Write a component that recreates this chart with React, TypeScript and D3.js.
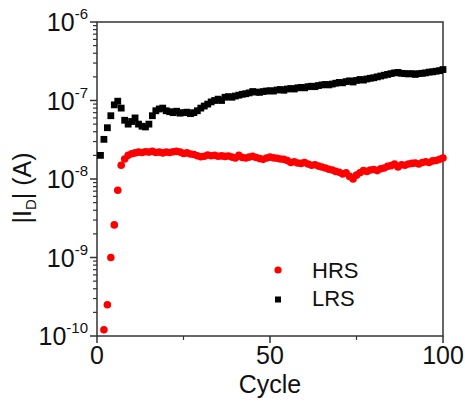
import React, { useEffect, useRef } from "react";
import * as d3 from "d3";

const cycles = d3.range(1, 101);

// LRS current, cycle 1..100
const lrsValues = [
  2.0e-8, 3.2e-8, 4.5e-8, 6.4e-8, 8.8e-8, 9.8e-8, 8.0e-8, 5.6e-8, 5.0e-8, 5.4e-8,
  6.0e-8, 5.0e-8, 4.7e-8, 4.6e-8, 5.0e-8, 6.4e-8, 7.4e-8, 7.8e-8, 8.0e-8, 7.4e-8,
  7.2e-8, 7.0e-8, 7.3e-8, 6.9e-8, 7.0e-8, 7.1e-8, 6.8e-8, 7.0e-8, 7.4e-8, 8.0e-8,
  8.5e-8, 9.0e-8, 9.6e-8, 1.0e-7, 1.04e-7, 1.0e-7, 1.1e-7, 1.12e-7, 1.1e-7, 1.14e-7,
  1.17e-7, 1.2e-7, 1.22e-7, 1.25e-7, 1.3e-7, 1.28e-7, 1.27e-7, 1.3e-7, 1.32e-7, 1.33e-7,
  1.32e-7, 1.36e-7, 1.38e-7, 1.35e-7, 1.4e-7, 1.42e-7, 1.4e-7, 1.45e-7, 1.47e-7, 1.45e-7,
  1.5e-7, 1.52e-7, 1.5e-7, 1.55e-7, 1.58e-7, 1.6e-7, 1.58e-7, 1.62e-7, 1.66e-7, 1.7e-7,
  1.68e-7, 1.74e-7, 1.78e-7, 1.72e-7, 1.8e-7, 1.85e-7, 1.82e-7, 1.88e-7, 1.92e-7, 1.95e-7,
  2.0e-7, 2.05e-7, 2.1e-7, 2.15e-7, 2.2e-7, 2.25e-7, 2.28e-7, 2.22e-7, 2.2e-7, 2.18e-7,
  2.2e-7, 2.15e-7, 2.2e-7, 2.22e-7, 2.25e-7, 2.3e-7, 2.32e-7, 2.36e-7, 2.4e-7, 2.48e-7,
];

// HRS current, cycle 1..100 (cycle 1 is below the axis range)
const hrsValues = [
  null, 1.2e-10, 2.5e-10, 1.0e-9, 2.6e-9, 7.2e-9, 1.5e-8, 1.8e-8, 2.0e-8, 2.1e-8,
  2.15e-8, 2.2e-8, 2.18e-8, 2.22e-8, 2.2e-8, 2.25e-8, 2.18e-8, 2.2e-8, 2.15e-8, 2.2e-8,
  2.18e-8, 2.22e-8, 2.25e-8, 2.2e-8, 2.12e-8, 2.15e-8, 2.08e-8, 2.05e-8, 1.98e-8, 1.92e-8,
  1.95e-8, 2.02e-8, 1.98e-8, 2.0e-8, 1.95e-8, 1.97e-8, 1.94e-8, 1.96e-8, 1.9e-8, 1.85e-8,
  2.0e-8, 1.88e-8, 1.85e-8, 1.9e-8, 1.94e-8, 1.88e-8, 1.82e-8, 1.78e-8, 1.85e-8, 1.9e-8,
  1.86e-8, 1.84e-8, 1.8e-8, 1.78e-8, 1.72e-8, 1.62e-8, 1.66e-8, 1.6e-8, 1.58e-8, 1.62e-8,
  1.55e-8, 1.5e-8, 1.52e-8, 1.46e-8, 1.42e-8, 1.38e-8, 1.33e-8, 1.3e-8, 1.25e-8, 1.22e-8,
  1.16e-8, 1.2e-8, 1.08e-8, 1.0e-8, 1.12e-8, 1.2e-8, 1.28e-8, 1.25e-8, 1.3e-8, 1.32e-8,
  1.28e-8, 1.35e-8, 1.38e-8, 1.45e-8, 1.48e-8, 1.55e-8, 1.42e-8, 1.52e-8, 1.5e-8, 1.55e-8,
  1.58e-8, 1.6e-8, 1.55e-8, 1.62e-8, 1.66e-8, 1.62e-8, 1.7e-8, 1.72e-8, 1.78e-8, 1.85e-8,
];

const xTicks = [0, 50, 100];
const xMinorTicks = [25, 75];
const yExponents = [-6, -7, -8, -9, -10];

const App = () => {
  const svgRef = useRef<SVGSVGElement>(null);
  const svgWidth = 465;
  const svgHeight = 405;
  const margin = { top: 22, right: 22, bottom: 69, left: 97 };
  const innerWidth = svgWidth - margin.left - margin.right;
  const innerHeight = svgHeight - margin.top - margin.bottom;
  const font = "Liberation Sans, Arial, sans-serif";
  const axisColor = "#333";

  useEffect(() => {
    const svg = d3.select(svgRef.current);
    svg.selectAll("*").remove();

    const xScale = d3.scaleLinear().domain([0, 100]).range([0, innerWidth]);
    const yScale = d3.scaleLog().domain([1e-10, 1e-6]).range([innerHeight, 0]);

    const g = svg
      .append("g")
      .attr("transform", `translate(${margin.left},${margin.top})`);

    // frame
    g.append("rect")
      .attr("width", innerWidth)
      .attr("height", innerHeight)
      .attr("fill", "none")
      .attr("stroke", axisColor)
      .attr("stroke-width", 1.5);

    // y ticks (major + minor, outward)
    const minor: number[] = [];
    for (let e = -10; e < -6; e++) {
      for (let m = 2; m <= 9; m++) minor.push(m * Math.pow(10, e));
    }
    g.selectAll(".ymin")
      .data(minor)
      .enter()
      .append("line")
      .attr("x1", 0)
      .attr("x2", -4)
      .attr("y1", (d) => yScale(d))
      .attr("y2", (d) => yScale(d))
      .attr("stroke", axisColor)
      .attr("stroke-width", 1.2);

    g.selectAll(".ymaj")
      .data(yExponents)
      .enter()
      .append("line")
      .attr("x1", 0)
      .attr("x2", -7)
      .attr("y1", (d) => yScale(Math.pow(10, d)))
      .attr("y2", (d) => yScale(Math.pow(10, d)))
      .attr("stroke", axisColor)
      .attr("stroke-width", 1.5);

    const yLabels = g
      .selectAll(".ylab")
      .data(yExponents)
      .enter()
      .append("text")
      .attr("x", -9)
      .attr("y", (d) => yScale(Math.pow(10, d)) + 9)
      .attr("text-anchor", "end")
      .attr("font-family", font)
      .attr("font-size", 25)
      .attr("fill", "#111");
    yLabels.append("tspan").text("10");
    yLabels
      .append("tspan")
      .attr("dy", -12)
      .attr("font-size", 15)
      .text((d) => `${d}`);

    // x ticks
    g.selectAll(".xmaj")
      .data(xTicks)
      .enter()
      .append("line")
      .attr("x1", (d) => xScale(d))
      .attr("x2", (d) => xScale(d))
      .attr("y1", innerHeight)
      .attr("y2", innerHeight + 7)
      .attr("stroke", axisColor)
      .attr("stroke-width", 1.5);

    g.selectAll(".xmin")
      .data(xMinorTicks)
      .enter()
      .append("line")
      .attr("x1", (d) => xScale(d))
      .attr("x2", (d) => xScale(d))
      .attr("y1", innerHeight)
      .attr("y2", innerHeight + 4)
      .attr("stroke", axisColor)
      .attr("stroke-width", 1.2);

    g.selectAll(".xlab")
      .data(xTicks)
      .enter()
      .append("text")
      .attr("x", (d) => xScale(d))
      .attr("y", innerHeight + 28)
      .attr("text-anchor", "middle")
      .attr("font-family", font)
      .attr("font-size", 25)
      .attr("fill", "#111")
      .text((d) => d);

    // axis titles
    g.append("text")
      .attr("x", innerWidth / 2)
      .attr("y", innerHeight + 57)
      .attr("text-anchor", "middle")
      .attr("font-family", font)
      .attr("font-size", 25)
      .attr("fill", "#111")
      .text("Cycle");

    const yTitle = g
      .append("text")
      .attr("transform", `translate(-66,${innerHeight / 2 + 9}) rotate(-90)`)
      .attr("text-anchor", "middle")
      .attr("font-family", font)
      .attr("font-size", 25)
      .attr("fill", "#111");
    yTitle.append("tspan").text("|I");
    yTitle.append("tspan").attr("font-size", 15).attr("dy", 5).text("D");
    yTitle.append("tspan").attr("dy", -5).text("| (A)");

    // LRS squares
    const lrs = cycles.map((c, i) => ({ c, v: lrsValues[i] }));
    g.selectAll(".lrs")
      .data(lrs)
      .enter()
      .append("rect")
      .attr("x", (d) => xScale(d.c) - 3.4)
      .attr("y", (d) => yScale(d.v) - 3.4)
      .attr("width", 6.8)
      .attr("height", 6.8)
      .attr("fill", "#000");

    // HRS circles
    const hrs = cycles
      .map((c, i) => ({ c, v: hrsValues[i] }))
      .filter((d) => d.v !== null) as { c: number; v: number }[];
    g.selectAll(".hrs")
      .data(hrs)
      .enter()
      .append("circle")
      .attr("cx", (d) => xScale(d.c))
      .attr("cy", (d) => yScale(d.v))
      .attr("r", 3.8)
      .attr("fill", "#f00");

    // legend
    const legend = svg.append("g").attr("transform", "translate(278,270)");
    legend.append("circle").attr("cx", 0).attr("cy", 0).attr("r", 3.6).attr("fill", "#f00");
    legend
      .append("text")
      .attr("x", 34)
      .attr("y", 8)
      .attr("font-family", font)
      .attr("font-size", 22)
      .attr("fill", "#111")
      .text("HRS");
    legend
      .append("rect")
      .attr("x", -3)
      .attr("y", 26.5)
      .attr("width", 6)
      .attr("height", 6)
      .attr("fill", "#000");
    legend
      .append("text")
      .attr("x", 34)
      .attr("y", 36)
      .attr("font-family", font)
      .attr("font-size", 22)
      .attr("fill", "#111")
      .text("LRS");
  }, []);

  return (
    <svg
      ref={svgRef}
      width={svgWidth}
      height={svgHeight}
      style={{ position: "absolute", left: 0, top: 0, background: "#fff" }}
    ></svg>
  );
};

export default App;
